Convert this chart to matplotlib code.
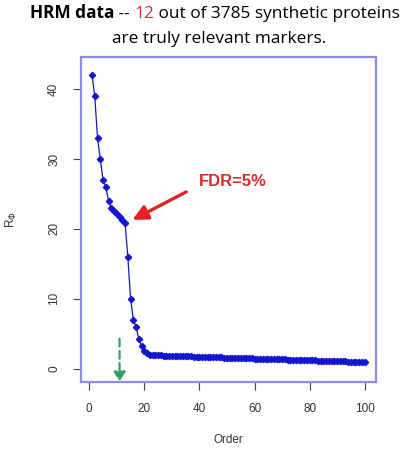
import matplotlib
matplotlib.use("Agg")
import matplotlib.pyplot as plt

# R_phi values by order
head_vals = [42, 39, 33, 30, 27, 26, 24, 23, 22.5, 22.1, 21.7, 21.3, 20.9,
             16, 10, 7, 6, 4.2, 3.3, 2.6, 2.2, 2.0]
tail_vals = [1.95, 1.93, 1.92, 1.90, 1.88, 1.87, 1.85, 1.84,
             1.82, 1.81, 1.80, 1.78, 1.77, 1.76, 1.75, 1.73, 1.72, 1.71,
             1.70, 1.68, 1.67, 1.66, 1.65, 1.63, 1.62, 1.61, 1.60, 1.58,
             1.57, 1.56, 1.55, 1.53, 1.52, 1.51, 1.50, 1.48, 1.47, 1.46,
             1.45, 1.43, 1.42, 1.41, 1.40, 1.38, 1.37, 1.36, 1.35, 1.33,
             1.32, 1.31, 1.30, 1.28, 1.27, 1.26, 1.25, 1.23, 1.22, 1.21,
             1.20, 1.18, 1.17, 1.16, 1.15, 1.13, 1.12, 1.11, 1.10, 1.08,
             1.07, 1.06, 1.05, 1.03, 1.02, 1.01, 1.00, 0.98, 0.97, 0.95]
r_vals = head_vals + tail_vals
order = list(range(1, len(r_vals) + 1))

x_ticks = [0, 20, 40, 60, 80, 100]
y_ticks = [0, 10, 20, 30, 40]

W, H = 415, 451
fig = plt.figure(figsize=(W / 100, H / 100), dpi=100)
ax = fig.add_axes([81 / W, 1 - 382 / H, (376 - 81) / W, (382 - 57) / H])

ax.plot(order, r_vals, color="#1a1aa0", lw=0.9, marker="D", ms=3.2,
        mec="#1515d0", mfc="#1515d0")

ax.set_xlim(-3, 104.1)
ax.set_ylim(-1.9, 44.6)
ax.set_xticks(x_ticks)
ax.set_yticks(y_ticks)
ax.tick_params(direction="out", length=6, width=0.8, color="#444444",
               labelcolor="#333333", labelsize=8.5)
ax.tick_params(axis="x", pad=9)
ax.tick_params(axis="y", pad=9)
for lab in ax.get_yticklabels():
    lab.set_rotation(90)
    lab.set_va("center")
for lab in ax.get_xticklabels() + ax.get_yticklabels():
    lab.set_family("Liberation Sans")
for s in ax.spines.values():
    s.set_color("#8c8ce6")
    s.set_linewidth(1.6)

ax.set_xlabel("Order", family="Liberation Sans", fontsize=8.5, color="#333333",
              labelpad=14)
ax.set_ylabel(r"R$_{\Phi}$", family="Liberation Sans", fontsize=8.5,
              color="#333333", labelpad=21)

# red arrow + label
ax.annotate("", xy=(15.7, 21.3), xytext=(35.2, 25.3),
            arrowprops=dict(arrowstyle="-|>,head_length=0.9,head_width=0.45",
                            color="#e52222", lw=2.4, shrinkA=0, shrinkB=0))
ax.text(52, 26.8, "FDR=5%", color="#d42a2a", fontsize=12,
        fontweight="bold", family="Liberation Sans", ha="center", va="center")

# green dashed arrow
ax.annotate("", xy=(11, -1.8), xytext=(11, 4.3),
            arrowprops=dict(arrowstyle="-|>,head_length=0.55,head_width=0.35",
                            color="#2f9e64", lw=1.6, ls=(0, (3.5, 2)),
                            shrinkA=0, shrinkB=0))

# title, built in pieces
fam = "Open Sans"
fs = 12.4
pieces = [("HRM data", "bold", "black"), (" -- ", "normal", "black"),
          ("12", "normal", "#e03030"),
          (" out of 3785 synthetic proteins", "normal", "black")]
fig.canvas.draw()
r = fig.canvas.get_renderer()
x = 30 / W
for txt, w, c in pieces:
    t = fig.text(x, 1 - 18 / H, txt, fontsize=fs, fontweight=w, color=c,
                 family=fam, ha="left", va="baseline")
    bb = t.get_window_extent(renderer=r)
    x += bb.width / W
fig.text(219 / W, 1 - 43 / H, "are truly relevant markers.", fontsize=fs,
         family=fam, ha="center", va="baseline")

fig.savefig("out.png", dpi=100)
